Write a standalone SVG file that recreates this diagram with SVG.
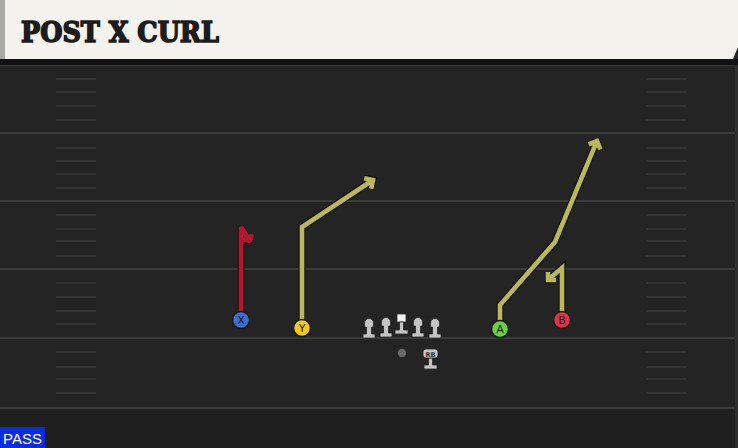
<svg xmlns="http://www.w3.org/2000/svg" width="738" height="448" viewBox="0 0 738 448">
<defs>
<style>
.yl{stroke:#3b3b3b;stroke-width:2}
.hm{stroke:#393939;stroke-width:1.6}
.out{fill:none;stroke:#141414;stroke-width:7;stroke-linejoin:miter}
.ry{fill:none;stroke:#b9b85a;stroke-width:4.6;stroke-linejoin:miter}
.rr{fill:none;stroke:#b3162f;stroke-width:4.6;stroke-linejoin:miter}
.bv{stroke-linejoin:bevel}
.pc{stroke:#1a1a1a;stroke-width:1.5}
.pl{font-family:"DejaVu Sans",sans-serif;font-size:11px;fill:#1a1a1a;text-anchor:middle}
.ol{fill:#c4c4c4;stroke:#2a2a2a;stroke-width:0.8}
</style>
</defs>
<rect width="738" height="448" fill="#242424"/>
<rect x="0" y="408" width="738" height="40" fill="#1f1f1f"/>
<g id="field">
<line class="yl" x1="0" y1="65" x2="738" y2="65"/>
<line class="yl" x1="0" y1="133" x2="738" y2="133"/>
<line class="yl" x1="0" y1="201" x2="738" y2="201"/>
<line class="yl" x1="0" y1="269" x2="738" y2="269"/>
<line class="yl" x1="0" y1="338" x2="738" y2="338"/>
<line class="yl" x1="0" y1="408" x2="738" y2="408"/>
<path class="hm" d="M56,79H96M56,92H96M56,106H96M56,120H96M56,148H96M56,161H96M56,174H96M56,188H96M56,215H96M56,229H96M56,241H96M56,256H96M56,283H96M56,297H96M56,311H96M56,324H96M56,352H96M56,367H96M56,379H96M56,393H96"/>
<path class="hm" d="M646,79H686M646,92H686M646,106H686M646,120H686M646,148H686M646,161H686M646,174H686M646,188H686M646,215H686M646,229H686M646,241H686M646,256H686M646,283H686M646,297H686M646,311H686M646,324H686M646,352H686M646,367H686M646,379H686M646,393H686"/>
<rect x="735" y="60" width="3" height="388" fill="#2e2e2e"/>
</g>
<g id="header">
<rect x="0" y="59" width="738" height="6" fill="#121212"/>
<polygon points="5,0 738,0 738,47 733,59 5,59" fill="#f4f2ec"/>
<rect x="0" y="0" width="5" height="59" fill="#a9a9a5"/>
<text x="21" y="42" font-family="'DejaVu Serif',serif" font-weight="bold" font-size="27" fill="#1c1c1c" stroke="#1c1c1c" stroke-width="1.6" textLength="198" lengthAdjust="spacingAndGlyphs">POST X CURL</text>
</g>
<g id="connectors">
<path class="out bv" d="M241,312V227L250,241M251.8,234.2L250,241L243.2,239.2"/>
<path class="rr bv" d="M241,312V227L250,241M251.8,234.2L250,241L243.2,239.2"/>
<path class="out" d="M302,320V227L371.5,181M364.2,178.2L373,180L371.2,188.8"/>
<path class="ry" d="M302,320V227L371.5,181M364.2,178.2L373,180L371.2,188.8"/>
<path class="out" d="M500,320V305L555,242L596.3,142.7M588.7,144.4L597,141L600.4,149.3"/>
<path class="ry" d="M500,320V305L555,242L596.3,142.7M588.7,144.4L597,141L600.4,149.3"/>
<path class="out" d="M562,312V268L549,279M556,280L548,280L548,272"/>
<path class="ry" d="M562,312V268L549,279M556,280L548,280L548,272"/>
</g>
<g id="X"><circle class="pc" cx="241" cy="320" r="8.5" fill="#3b6fd6"/><text class="pl" x="241" y="324">X</text></g>
<g id="Y"><circle class="pc" cx="302" cy="328" r="8.5" fill="#f2c724"/><text class="pl" x="302" y="332">Y</text></g>
<g id="A"><circle class="pc" cx="500" cy="329" r="8.5" fill="#6bd23f"/><text class="pl" x="500" y="333">A</text></g>
<g id="B"><circle class="pc" cx="562" cy="320" r="8.5" fill="#e23245"/><text class="pl" x="562" y="324">B</text></g>
<g id="line">
<path class="ol" d="M364.5,327V323A4.5,4.5 0 0 1 373.5,323V327H371.5V334H375V338H363V334H366.5V327Z"/>
<path class="ol" d="M381.5,326V322A4.5,4.5 0 0 1 390.5,322V326H388.5V333H392V337H380V333H383.5V326Z"/>
<rect x="397" y="314" width="9" height="8" fill="#f4f4f4" stroke="#2a2a2a" stroke-width="0.8"/>
<path class="ol" d="M399.5,322H403.5V330H408V334H395V330H399.5Z"/>
<path class="ol" d="M413.5,326V322A4.5,4.5 0 0 1 422.5,322V326H420.5V333H424V337H412V333H415.5V326Z"/>
<path class="ol" d="M430.5,327V323A4.5,4.5 0 0 1 439.5,323V327H437.5V334H441V338H429V334H432.5V327Z"/>
</g>
<g id="QB"><circle cx="402" cy="353" r="4.5" fill="#6a6a6a" stroke="#2a2a2a" stroke-width="0.8"/></g>
<g id="RB">
<path class="ol" d="M428.5,358H432.5V365H437V369H424V365H428.5Z"/>
<rect x="423" y="349" width="15" height="9" rx="3" fill="#c4c4c4" stroke="#2a2a2a" stroke-width="0.8"/>
<text x="430.5" y="356.5" font-family="'DejaVu Sans',sans-serif" font-size="6.5" font-weight="bold" fill="#333" text-anchor="middle">RB</text>
</g>
<g id="pass">
<rect x="0" y="427" width="45" height="21" fill="#0b2be0"/>
<text x="3" y="444" font-family="'Liberation Sans',sans-serif" font-size="15" fill="#ffffff">PASS</text>
</g>
</svg>
